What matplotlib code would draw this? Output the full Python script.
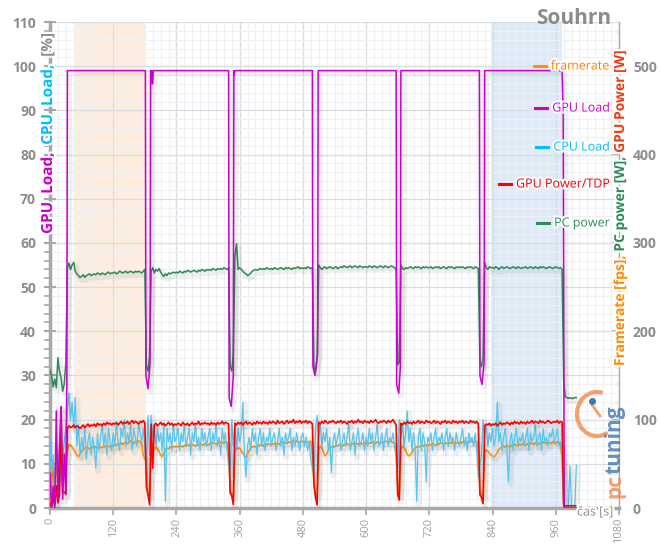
import numpy as np
import matplotlib.pyplot as plt
import matplotlib.patheffects as pe
from matplotlib.patches import Arc
from matplotlib.lines import Line2D
from matplotlib.ticker import MultipleLocator
from matplotlib.transforms import IdentityTransform

plt.rcParams['font.family'] = ['Open Sans', 'DejaVu Sans']

# time axis, one sample every 3 s
t = np.arange(0, 1002, 3)

# PC power [W]
pc_power = [
    156, 150, 137, 146, 136, 170, 155, 147, 132, 140, 165, 272, 277, 270, 275, 278, 268, 265, 263, 261,
    262, 264, 261, 263, 264, 265, 263, 264, 265, 264, 266, 265, 264, 266, 265, 264, 266, 267, 265, 266,
    266, 267, 265, 266, 268, 267, 266, 267, 268, 266, 267, 268, 267, 266, 268, 267, 268, 267, 266, 268,
    270, 160, 155, 172, 268, 272, 266, 270, 268, 271, 267, 264, 262, 265, 263, 266, 265, 266, 267, 266,
    267, 266, 268, 267, 266, 268, 267, 269, 268, 267, 268, 269, 268, 267, 269, 268, 270, 269, 268, 270,
    269, 270, 269, 271, 270, 269, 271, 270, 271, 270, 272, 271, 270, 272, 160, 155, 175, 285, 299, 270,
    272, 270, 268, 266, 265, 263, 264, 266, 268, 269, 270, 269, 270, 271, 270, 271, 270, 272, 271, 270,
    271, 270, 272, 271, 270, 271, 272, 271, 270, 272, 271, 272, 271, 270, 272, 271, 272, 273, 271, 272,
    271, 272, 271, 273, 272, 271, 272, 160, 155, 170, 275, 272, 270, 272, 273, 271, 272, 273, 272, 271,
    272, 273, 271, 272, 273, 272, 274, 273, 272, 273, 274, 272, 273, 274, 273, 272, 274, 273, 272, 273,
    273, 272, 274, 273, 272, 274, 273, 272, 273, 274, 273, 272, 274, 273, 272, 273, 274, 273, 272, 270,
    162, 165, 275, 271, 270, 272, 271, 272, 273, 272, 271, 273, 272, 273, 272, 271, 273, 272, 273, 272,
    272, 273, 271, 272, 273, 272, 273, 271, 272, 273, 272, 271, 273, 272, 273, 272, 271, 273, 272, 273,
    272, 273, 272, 271, 273, 272, 273, 272, 271, 273, 272, 271, 165, 160, 170, 278, 272, 270, 273, 272,
    272, 271, 273, 272, 270, 272, 273, 271, 272, 273, 272, 271, 272, 273, 272, 271, 273, 272, 271, 272,
    272, 273, 271, 272, 273, 272, 271, 273, 272, 271, 273, 272, 273, 272, 271, 272, 273, 272, 271, 272,
    273, 272, 271, 272, 270, 145, 126, 125, 124, 125, 124, 124, 125, 125,
]

# CPU load [%]
cpu_load = [
    15, 8, 12, 5, 14, 9, 13, 6, 11, 15, 18, 22, 26, 20, 24, 18, 25, 14, 19, 12,
    16, 13, 18, 11, 15, 17, 12, 16, 14, 9, 17, 13, 16, 19, 14, 17, 12, 18, 15, 13,
    17, 14, 19, 15, 13, 18, 16, 20, 14, 17, 15, 19, 13, 18, 16, 14, 19, 17, 15, 18,
    14, 9, 21, 12, 21, 16, 19, 14, 18, 15, 17, 13, 19, 1.5, 18, 15, 17, 13, 19, 15,
    16, 18, 13, 17, 15, 19, 14, 16, 18, 12, 17, 15, 19, 14, 16, 13, 18, 15, 17, 14,
    16, 18, 13, 17, 15, 19, 14, 16, 12, 18, 15, 17, 13, 10, 8, 20, 14, 19, 13, 18,
    15, 17, 24, 12, 7, 14, 16, 13, 18, 15, 17, 12, 16, 18, 14, 17, 13, 16, 15, 18,
    14, 16, 17, 13, 15, 18, 14, 16, 12, 17, 15, 16, 18, 13, 16, 14, 17, 15, 13, 16,
    17, 14, 16, 13, 15, 11, 9, 8, 18, 21, 16, 19, 14, 17, 15, 18, 13, 16, 8, 15,
    17, 14, 16, 18, 13, 15, 17, 14, 16, 19, 13, 15, 17, 12, 16, 18, 14, 15, 17, 13,
    16, 14, 18, 15, 17, 13, 16, 19, 14, 15, 17, 13, 16, 18, 14, 16, 15, 17, 14, 12,
    9, 20, 16, 19, 14, 17, 22, 15, 18, 13, 17, 14, 1.5, 16, 18, 13, 17, 15, 6, 16,
    15, 17, 13, 16, 18, 14, 16, 15, 17, 13, 16, 18, 14, 17, 15, 16, 13, 17, 15, 14,
    16, 18, 14, 16, 13, 17, 15, 16, 14, 17, 13, 7, 10, 12, 20, 16, 19, 14, 17, 15,
    18, 14, 16, 24, 15, 17, 13, 16, 18, 14, 6, 15, 17, 13, 16, 18, 14, 16, 15, 17,
    14, 16, 18, 13, 17, 15, 16, 19, 14, 16, 17, 13, 18, 15, 16, 14, 17, 16, 18, 15,
    16, 18, 14, 15, 12, 0, 0, 0, 0, 9.5, 0, 0, 0, 9.7,
]

# GPU power [W]
gpu_power = [
    5, 2, 12, 3, 25, 6, 15, 114, 17, 18, 16, 90, 93, 91, 92, 94, 91, 93, 92, 90,
    92, 94, 91, 93, 95, 92, 94, 93, 95, 92, 96, 94, 95, 93, 96, 94, 97, 95, 96, 94,
    96, 95, 97, 94, 96, 98, 95, 97, 96, 98, 95, 97, 99, 96, 98, 97, 95, 98, 97, 99,
    96, 24, 15, 3.5, 95, 45, 94, 96, 93, 95, 97, 94, 96, 93, 95, 97, 94, 96, 93, 95,
    94, 96, 95, 93, 97, 95, 94, 96, 93, 95, 97, 94, 96, 95, 98, 94, 96, 95, 97, 95,
    96, 94, 97, 95, 96, 94, 97, 95, 96, 98, 95, 97, 96, 95, 17, 14, 4, 96, 94, 97,
    95, 97, 94, 96, 98, 95, 97, 96, 94, 97, 95, 98, 96, 97, 95, 98, 96, 97, 95, 98,
    96, 98, 97, 95, 99, 96, 97, 98, 95, 97, 99, 96, 98, 97, 100, 96, 98, 97, 99, 96,
    98, 97, 99, 96, 98, 97, 95, 28, 12, 3.5, 97, 95, 98, 96, 99, 97, 96, 98, 97, 99,
    97, 96, 98, 97, 99, 96, 98, 97, 95, 98, 97, 99, 96, 98, 97, 100, 97, 98, 96, 99,
    97, 98, 96, 99, 97, 98, 100, 97, 96, 98, 97, 99, 98, 96, 99, 97, 98, 100, 97, 94,
    15, 9, 96, 94, 97, 95, 98, 96, 97, 95, 98, 96, 97, 99, 96, 98, 97, 96, 99, 97,
    98, 96, 97, 99, 96, 98, 97, 95, 98, 97, 99, 96, 98, 97, 96, 99, 97, 98, 96, 98,
    97, 99, 96, 98, 97, 96, 99, 97, 98, 96, 98, 95, 15, 12, 5, 93, 95, 94, 96, 93,
    95, 94, 96, 93, 95, 97, 94, 96, 95, 97, 96, 94, 97, 95, 98, 96, 97, 95, 98, 96,
    97, 95, 98, 96, 97, 99, 96, 98, 97, 96, 99, 97, 98, 96, 97, 99, 98, 96, 97, 98,
    97, 99, 96, 98, 97, 3, 2.5, 2.5, 2.5, 2.5, 2.5, 2.5, 2.5, 2.5,
]

# framerate [fps]
framerate = [
    2, 25, 52, 8, 55, 30, 60, 45, 58, 62, 55, 64, 72, 71, 69, 66, 63, 60, 58, 61,
    64, 67, 68, 69, 68, 67, 69, 68, 70, 69, 68, 70, 69, 68, 70, 69, 71, 70, 69, 71,
    70, 72, 71, 73, 72, 74, 72, 73, 75, 73, 74, 76, 74, 73, 75, 74, 76, 75, 73, 60,
    55, 58, 17, 14, 62, 68, 66, 69, 67, 64, 60, 58, 62, 66, 68, 67, 69, 68, 70, 69,
    70, 69, 71, 70, 69, 71, 70, 72, 71, 70, 72, 71, 70, 72, 71, 73, 72, 71, 73, 72,
    71, 73, 72, 74, 73, 72, 74, 73, 75, 74, 73, 75, 74, 58, 20, 15, 14, 64, 69, 67,
    68, 65, 62, 59, 58, 61, 65, 68, 69, 70, 69, 71, 70, 72, 71, 70, 72, 71, 73, 72,
    71, 73, 72, 74, 73, 72, 74, 73, 75, 74, 73, 75, 74, 76, 75, 74, 76, 75, 74, 76,
    75, 74, 76, 75, 74, 76, 62, 25, 14, 15, 66, 70, 68, 63, 59, 61, 65, 68, 69, 70,
    69, 71, 70, 72, 71, 70, 72, 71, 73, 72, 71, 73, 72, 74, 73, 72, 74, 73, 72, 74,
    73, 72, 74, 73, 75, 74, 73, 75, 74, 73, 75, 74, 76, 75, 74, 76, 75, 74, 73, 58,
    18, 15, 66, 70, 68, 65, 61, 59, 60, 63, 66, 68, 69, 70, 69, 71, 70, 72, 71, 70,
    72, 71, 73, 72, 71, 73, 72, 74, 73, 72, 74, 73, 72, 74, 73, 75, 74, 73, 75, 74,
    73, 75, 74, 73, 75, 74, 76, 75, 74, 76, 75, 60, 20, 15, 14, 62, 66, 64, 62, 60,
    59, 58, 60, 63, 66, 68, 69, 70, 69, 71, 70, 69, 71, 70, 72, 71, 70, 72, 71, 73,
    72, 71, 73, 72, 74, 73, 72, 74, 73, 72, 74, 73, 75, 74, 73, 75, 74, 73, 75, 74,
    73, 75, 74, 73, 55, 0, 0, 0, 0, 0, 0, 0, 0, 0,
]

# GPU load [%] - breakpoints (time, value)
gpu_load_t = [0, 3, 6, 9, 12, 15, 18, 21, 24, 27, 30, 32, 33,
              181, 182, 186, 190, 191, 193, 194, 195, 196,
              339, 340, 344, 348, 349, 350, 351,
              498, 499, 503, 508, 509,
              657, 658, 662, 665, 666,
              815, 816, 820, 824, 825,
              972, 974, 976, 1000]
gpu_load = [8, 0, 5, 0, 22, 2, 14, 23, 2, 12, 3, 30, 99,
            99, 30, 27, 33, 99, 99, 96, 96, 99,
            99, 25, 23, 30, 99, 98, 99,
            99, 32, 30, 35, 99,
            99, 28, 26, 32, 99,
            99, 30, 28, 33, 99,
            99, 90, 0, 0]

# highlighted intervals [s]
spans = [(47, 180, '#FDEDDF'), (837, 972, '#DDEBFA')]

C_ORANGE = '#FF9400'
C_MAGENTA = '#CC00CC'
C_CYAN = '#55C6F0'
C_RED = '#FF0000'
C_GREEN = '#2E8B57'
GRAY = '#8C8C8C'

W, H = 660, 545
fig = plt.figure(figsize=(W / 100, H / 100), dpi=100)
ax = fig.add_axes([50 / W, 37 / H, 569 / W, 486 / H])
ax.set_xlim(0, 1080)
ax.set_ylim(0, 110)

for a, b, c in spans:
    ax.axvspan(a, b, color=c, zorder=0.2, lw=0)

ax.xaxis.set_major_locator(MultipleLocator(120))
ax.xaxis.set_minor_locator(MultipleLocator(15))
ax.yaxis.set_major_locator(MultipleLocator(10))
ax.yaxis.set_minor_locator(MultipleLocator(2))
ax.set_axisbelow(True)
ax.grid(which='major', color='#D9DCE2', lw=0.9, zorder=0.5)
ax.grid(which='minor', color='#EEF0F3', lw=0.8, zorder=0.4)

ax.set_xticks(range(0, 1081, 120), [str(v) for v in range(0, 1081, 120)])
ax.set_yticks(range(0, 111, 10), [str(v) for v in range(0, 111, 10)], fontweight='bold')
ax.tick_params(axis='x', which='major', labelrotation=90, labelsize=8, labelcolor='#A0A0A0',
               color='#A8A8A8', length=5, width=1.2, direction='out', pad=2)
ax.tick_params(axis='x', which='minor', length=0)
ax.tick_params(axis='y', which='major', labelsize=10, labelcolor=GRAY, color='#A8A8A8',
               length=8, width=1.5, direction='inout', pad=6)
ax.tick_params(axis='y', which='minor', color='#A8A8A8', length=4, width=1.2, direction='out')

for s in ['top', 'right']:
    ax.spines[s].set_visible(False)
for s in ['left', 'bottom']:
    ax.spines[s].set_color('#A8A8A8')
    ax.spines[s].set_linewidth(2.5)

# right axis: W / fps, 5 units per %
sec = ax.secondary_yaxis('right', functions=(lambda v: v * 5, lambda v: v / 5))
sec.set_yticks(range(0, 501, 100), [str(v) for v in range(0, 501, 100)], fontweight='bold')
sec.yaxis.set_minor_locator(MultipleLocator(20))
sec.tick_params(which='major', labelsize=10, labelcolor=GRAY, color='#A8A8A8',
                length=5, width=1.2, direction='in', pad=10)
sec.tick_params(which='minor', color='#A8A8A8', length=3, width=1, direction='in')
sec.spines['right'].set_color('#A8A8A8')
sec.spines['right'].set_linewidth(1)

shadow = [pe.SimpleLineShadow(offset=(1.5, -2), shadow_color='k', alpha=0.06, linewidth=4),
          pe.Normal()]

ax.plot(t, np.array(framerate) / 5, color=C_ORANGE, lw=1.1, path_effects=shadow, zorder=3)
ax.plot(t, cpu_load, color=C_CYAN, lw=0.9, path_effects=shadow, zorder=3.1)
ax.plot(t, np.array(pc_power) / 5, color=C_GREEN, lw=1.1, path_effects=shadow, zorder=3.2)
ax.plot(t, np.array(gpu_power) / 5, color=C_RED, lw=1.2, path_effects=shadow, zorder=3.3)
ax.plot(gpu_load_t, gpu_load, color=C_MAGENTA, lw=1.1, path_effects=shadow, zorder=3.4)

glow = [pe.withStroke(linewidth=3, foreground='white')]
renderer = fig.canvas.get_renderer()


def vtext(x_px, y_px, parts, **kw):
    # rotated text made of coloured pieces, written upwards from (x_px, y_px)
    y = y_px
    for s, c in parts:
        tx = fig.text(x_px / W, 1 - y / H, s, color=c, rotation=90, rotation_mode='anchor',
                      ha='left', va='center', **kw)
        y -= tx.get_window_extent(renderer).height


vtext(48, 234, [('GPU  Load,', C_MAGENTA), ('  CPU  Load,', '#00BFFF'), ('  [%]  ', GRAY)],
      fontsize=11, fontweight='bold', path_effects=glow)
vtext(620, 366, [('Framerate [fps],', '#FF8C00'), (' PC power [W],', C_GREEN),
                 (' GPU Power [W] ', '#F03A10')],
      fontsize=10, fontweight='bold', path_effects=glow)

# legend
legend = [('framerate', '#FF8000', C_ORANGE, 66),
          ('GPU Load', C_MAGENTA, C_MAGENTA, 108),
          ('CPU Load', '#00BFFF', '#00BFFF', 147),
          ('GPU Power/TDP', '#F00000', C_RED, 184),
          ('PC power', C_GREEN, C_GREEN, 223)]
for label, tc, lc, y in legend:
    tx = fig.text(610 / W, 1 - y / H, label, color=tc, ha='right', va='center',
                  fontsize=9, path_effects=glow)
    x0 = tx.get_window_extent(renderer).x0
    fig.add_artist(Line2D([(x0 - 17) / W, (x0 - 5) / W], [1 - y / H, 1 - y / H],
                          color=lc, lw=2.2, transform=fig.transFigure))

fig.text(611 / W, 1 - 19 / H, 'Souhrn', ha='right', va='center', fontsize=15,
         fontweight='bold', color=GRAY)
fig.text(577 / W, 1 - 512 / H, 'čas [s]', ha='left', va='center', fontsize=9,
         color=GRAY, path_effects=glow)

# pctuning watermark
vtext(615, 498, [('pc', '#F08A50'), ('tuning', '#3C78B4')], fontsize=15,
      fontweight='bold', alpha=0.8)
fig.add_artist(Arc((597, H - 414), 40, 44, theta1=75, theta2=300, color='#F08A50',
                   lw=3, alpha=0.8, transform=IdentityTransform()))
fig.add_artist(Line2D([600, 592], [H - 416, H - 405], color='#F08A50', lw=2, alpha=0.8,
                      transform=IdentityTransform()))
fig.add_artist(Line2D([592], [H - 401], marker='o', ms=4, color='#3C78B4',
                      transform=IdentityTransform()))

fig.savefig('out.png', dpi=100)
